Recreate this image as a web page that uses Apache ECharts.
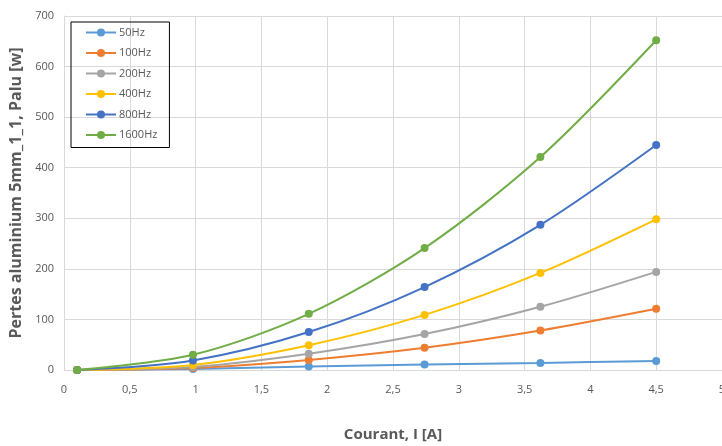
<!DOCTYPE html>
<html><head><meta charset="utf-8">
<script src="https://cdn.jsdelivr.net/npm/echarts@6/dist/echarts.min.js"></script>
<style>html,body{margin:0;padding:0;background:#fff}#c{width:722px;height:446px}</style>
</head><body><div id="c"></div>
<script>
const xValues = [0.1, 0.98, 1.86, 2.74, 3.62, 4.5];
const seriesNames = ['50Hz', '100Hz', '200Hz', '400Hz', '800Hz', '1600Hz'];
const s50 = [0, 2, 7, 11, 14, 18];
const s100 = [0, 4, 20, 44, 78, 121];
const s200 = [0, 6, 32, 71, 125, 194];
const s400 = [0, 10, 49, 109, 192, 298];
const s800 = [0, 19, 75, 164, 287, 445];
const s1600 = [0, 30, 111, 241, 421, 652];
const colors = ['#5B9BD5', '#ED7D31', '#A5A5A5', '#FFC000', '#4472C4', '#70AD47'];
const allData = [s50, s100, s200, s400, s800, s1600];

const font = '"Open Sans", "Liberation Sans", sans-serif';
const chart = echarts.init(document.getElementById('c'));
chart.setOption({
  animation: false,
  grid: {left: 64, right: 0, top: 16, bottom: 76, containLabel: false, outerBoundsMode: 'none'},
  legend: {
    orient: 'vertical', left: 71, top: 22,
    data: seriesNames,
    borderColor: '#000', borderWidth: 1,
    padding: [5, 12, 7, 14],
    itemGap: 9.5, itemWidth: 30, itemHeight: 10,
    textStyle: {fontFamily: font, fontSize: 11, color: '#595959', padding: [0, 0, 0, -2]}
  },
  xAxis: {
    type: 'value', min: 0, max: 5, interval: 0.5,
    name: 'Courant, I [A]', nameLocation: 'middle', nameGap: 57,
    nameTextStyle: {fontFamily: font, fontSize: 15, fontWeight: 'bold', color: '#595959'},
    axisLine: {show: true, lineStyle: {color: '#d9d9d9'}},
    axisTick: {show: false},
    axisLabel: {fontFamily: font, fontSize: 11, color: '#595959', margin: 14,
      formatter: v => String(v).replace('.', ',')},
    splitLine: {show: true, lineStyle: {color: '#d9d9d9'}}
  },
  yAxis: {
    type: 'value', min: 0, max: 700, interval: 100,
    name: 'Pertes aluminium 5mm_1_1, Palu [w]', nameLocation: 'middle', nameGap: 36,
    nameTextStyle: {fontFamily: font, fontSize: 16, fontWeight: 'bold', color: '#595959'},
    axisLine: {show: true, lineStyle: {color: '#d9d9d9'}},
    axisTick: {show: false},
    axisLabel: {fontFamily: font, fontSize: 11, color: '#595959', margin: 10},
    splitLine: {show: true, lineStyle: {color: '#d9d9d9'}}
  },
  series: seriesNames.map((n, i) => ({
    name: n, type: 'line', smooth: 0.3,
    symbol: 'circle', symbolSize: 8,
    color: colors[i],
    lineStyle: {width: 2, color: colors[i]},
    itemStyle: {color: colors[i]},
    data: xValues.map((x, j) => [x, allData[i][j]])
  }))
});
</script></body></html>
